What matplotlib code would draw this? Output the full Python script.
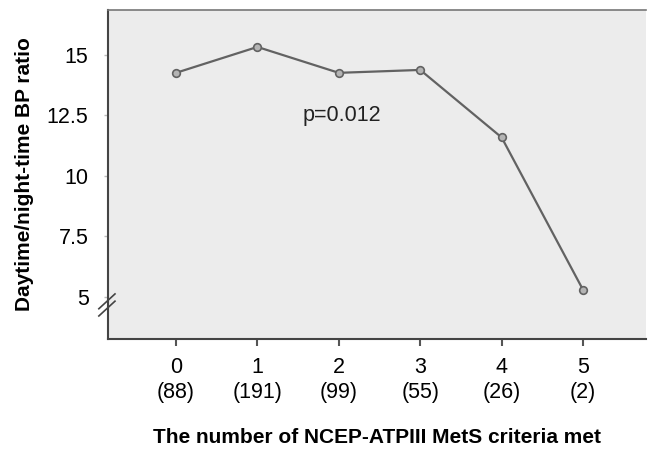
import numpy as np
from matplotlib import pyplot as plt

plt.rcParams['font.family'] = ['Liberation Sans', 'DejaVu Sans']

criteria = [0, 1, 2, 3, 4, 5]
counts = [88, 191, 99, 55, 26, 2]
ratio = [14.26, 15.33, 14.26, 14.38, 11.59, 5.29]
yticks = [5, 7.5, 10, 12.5, 15]

fig = plt.figure(figsize=(6.49, 4.51), dpi=100)
ax = fig.add_axes([0.1664, 0.2483, 0.8286, 0.7297])
ax.set_facecolor('#ececec')

ax.plot(criteria, ratio, color='#626262', lw=1.6, marker='o', ms=5.5,
        mfc='#b4b4b4', mec='#626262', mew=1.2, zorder=3)

ax.text(1.55, 12.5, 'p=0.012', fontsize=15.5, va='center', ha='left', color='#222222')

ax.set_xlim(-0.835, 5.77)
ax.set_ylim(3.26, 16.86)
ax.set_xticks(criteria)
ax.set_xticklabels(['%d\n(%d)' % (c, n) for c, n in zip(criteria, counts)],
                   fontsize=15.5, linespacing=1.25)
ax.set_yticks(yticks)
ax.set_yticklabels(['5', '7.5', '10', '12.5', '15'], fontsize=15.5)
ax.tick_params(axis='x', length=5, width=1.5, color='#555555', pad=8)
ax.tick_params(axis='y', length=3, width=1, color='#bbbbbb', pad=11)

ax.spines['right'].set_visible(False)
ax.spines['left'].set_color('#444444')
ax.spines['bottom'].set_color('#444444')
ax.spines['top'].set_color('#777777')
ax.spines['left'].set_linewidth(1.5)
ax.spines['bottom'].set_linewidth(1.5)
ax.spines['top'].set_linewidth(1.2)

# axis break marks
kw = dict(transform=ax.transAxes, color='#444444', lw=1.2, clip_on=False)
for dy in [0.0, 0.022]:
    ax.plot([-0.017, 0.013], [0.07 + dy, 0.115 + dy], **kw)

ax.set_xlabel('The number of NCEP-ATPIII MetS criteria met', fontsize=15,
              fontweight='bold', labelpad=18)
ax.set_ylabel('Daytime/night-time BP ratio', fontsize=15, fontweight='bold',
              labelpad=9)

fig.savefig('out.png', dpi=100)
